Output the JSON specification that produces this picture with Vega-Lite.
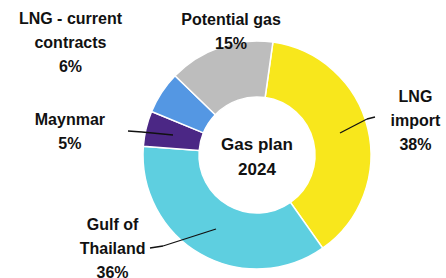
{
  "$schema": "https://vega.github.io/schema/vega-lite/v6.json",
  "width": 378,
  "height": 246,
  "autosize": {"type": "none"},
  "padding": {"left": 68, "top": 32, "right": 0, "bottom": 0},
  "background": "white",
  "config": {"view": {"stroke": null}},
  "datasets": {
    "shares": [
      {"name": "LNG import", "label": "LNG\nimport\n38%", "value": 38, "rank": 1},
      {"name": "Gulf of Thailand", "label": "Gulf of\nThailand\n36%", "value": 36, "rank": 2},
      {"name": "Maynmar", "label": "Maynmar\n5%", "value": 5, "rank": 3},
      {"name": "LNG - current contracts", "label": "LNG - current\ncontracts\n6%", "value": 6, "rank": 4},
      {"name": "Potential gas", "label": "Potential gas\n15%", "value": 15, "rank": 5}
    ],
    "leaders": [
      {"x": 83, "y": 22, "x2": 110, "y2": 36},
      {"x": 110, "y": 36, "x2": 118, "y2": 38},
      {"x": -84, "y": 20, "x2": -115, "y2": 23},
      {"x": -115, "y": 23, "x2": -129, "y2": 24},
      {"x": -41, "y": -74, "x2": -94, "y2": -91},
      {"x": -94, "y": -91, "x2": -107, "y2": -93}
    ]
  },
  "layer": [
    {
      "data": {"name": "shares"},
      "mark": {"type": "arc", "outerRadius": 114, "innerRadius": 58, "stroke": "white", "strokeWidth": 1.5},
      "encoding": {
        "theta": {"field": "value", "type": "quantitative", "stack": true, "scale": {"range": [0.14, 6.4232]}},
        "color": {
          "field": "name",
          "type": "nominal",
          "scale": {
            "domain": ["LNG import", "Gulf of Thailand", "Maynmar", "LNG - current contracts", "Potential gas"],
            "range": ["#F8E71C", "#5ECFE0", "#4B2785", "#5497E3", "#BDBDBD"]
          },
          "legend": null
        },
        "order": {"field": "rank", "type": "quantitative"}
      }
    },
    {
      "data": {"name": "shares"},
      "mark": {
        "type": "text",
        "lineBreak": "\n",
        "font": "Liberation Sans",
        "fontSize": 16,
        "fontWeight": "bold",
        "align": "center",
        "baseline": "middle",
        "lineHeight": 24,
        "color": "#111111",
        "radius": {"expr": "datum.name == 'LNG import' ? 162 : datum.name == 'Gulf of Thailand' ? 100 : datum.name == 'Maynmar' ? 180 : datum.name == 'LNG - current contracts' ? 217 : 126"},
        "dx": {"expr": "datum.name == 'Gulf of Thailand' ? -95 : datum.name == 'Maynmar' ? -12 : datum.name == 'LNG - current contracts' ? -5 : datum.name == 'Potential gas' ? 15 : 1"},
        "dy": {"expr": "datum.name == 'LNG import' ? -20 : datum.name == 'Gulf of Thailand' ? -17 : datum.name == 'Maynmar' ? 7 : datum.name == 'LNG - current contracts' ? -17 : -16"}
      },
      "encoding": {
        "theta": {"field": "value", "type": "quantitative", "stack": true},
        "detail": {"field": "name", "type": "nominal"},
        "order": {"field": "rank", "type": "quantitative"},
        "text": {"field": "label", "type": "nominal"}
      }
    },
    {
      "data": {"values": [{"t": "Gas plan\n2024"}]},
      "mark": {
        "type": "text",
        "lineBreak": "\n",
        "font": "Liberation Sans",
        "fontSize": 17,
        "fontWeight": "bold",
        "align": "center",
        "baseline": "middle",
        "lineHeight": 25,
        "color": "#111111",
        "dy": -10
      },
      "encoding": {"text": {"field": "t", "type": "nominal"}}
    },
    {
      "data": {"name": "leaders"},
      "mark": {"type": "rule", "color": "#111111", "strokeWidth": 1.3},
      "encoding": {
        "x": {"field": "x", "type": "quantitative", "scale": {"domain": [-189, 189], "nice": false, "zero": false}, "axis": null},
        "y": {"field": "y", "type": "quantitative", "scale": {"domain": [-123, 123], "nice": false, "zero": false}, "axis": null},
        "x2": {"field": "x2"},
        "y2": {"field": "y2"}
      }
    }
  ]
}
